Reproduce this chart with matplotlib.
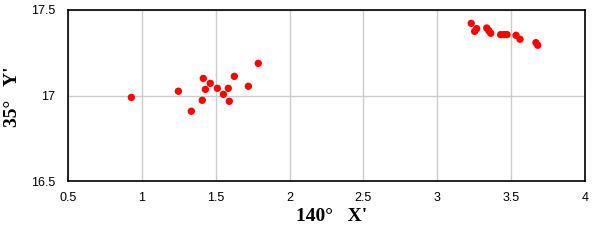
import matplotlib
matplotlib.use('Agg')
import matplotlib.pyplot as plt

# Data
x_left = [0.929, 1.247, 1.335, 1.409, 1.416, 1.430, 1.463, 1.511, 1.552, 1.585, 1.592, 1.626, 1.721, 1.788]
y_left = [16.989, 17.025, 16.908, 16.972, 17.100, 17.036, 17.071, 17.042, 17.007, 17.042, 16.966, 17.112, 17.054, 17.188]

x_right = [3.230, 3.253, 3.267, 3.335, 3.349, 3.362, 3.429, 3.452, 3.472, 3.533, 3.560, 3.668, 3.680]
y_right = [17.422, 17.375, 17.391, 17.395, 17.379, 17.364, 17.356, 17.356, 17.356, 17.352, 17.329, 17.309, 17.294]

x_ticks = [0.5, 1, 1.5, 2, 2.5, 3, 3.5, 4]
x_tick_labels = ['0.5', '1', '1.5', '2', '2.5', '3', '3.5', '4']
y_ticks = [16.5, 17, 17.5]
y_tick_labels = ['16.5', '17', '17.5']

fig = plt.figure(figsize=(5.94, 2.42), dpi=100)
ax = fig.add_axes([0.1145, 0.252, 0.8703, 0.7067])

ax.scatter(x_left + x_right, y_left + y_right, s=28, color='#ff0000', edgecolors='none', zorder=3)

ax.set_xlim(0.5, 4)
ax.set_ylim(16.5, 17.5)
ax.set_xticks(x_ticks)
ax.set_xticklabels(x_tick_labels)
ax.set_yticks(y_ticks)
ax.set_yticklabels(y_tick_labels)
ax.tick_params(axis='x', length=0, labelsize=9, pad=8)
ax.tick_params(axis='y', length=0, labelsize=9, pad=9)
for lab in ax.get_xticklabels() + ax.get_yticklabels():
    lab.set_family('Liberation Sans')
ax.grid(True, color='#c8cec8', linewidth=1)
ax.set_axisbelow(True)
for sp in ax.spines.values():
    sp.set_color('black')
    sp.set_linewidth(1.2)

ax.set_xlabel("140°   X'", fontsize=14, fontweight='bold', family='Liberation Serif')
ax.xaxis.set_label_coords(0.51, -0.16)
ax.set_ylabel("35°   Y'", fontsize=14, fontweight='bold', family='Liberation Serif')
ax.yaxis.set_label_coords(-0.09, 0.49)

fig.savefig('out.png', dpi=100)
